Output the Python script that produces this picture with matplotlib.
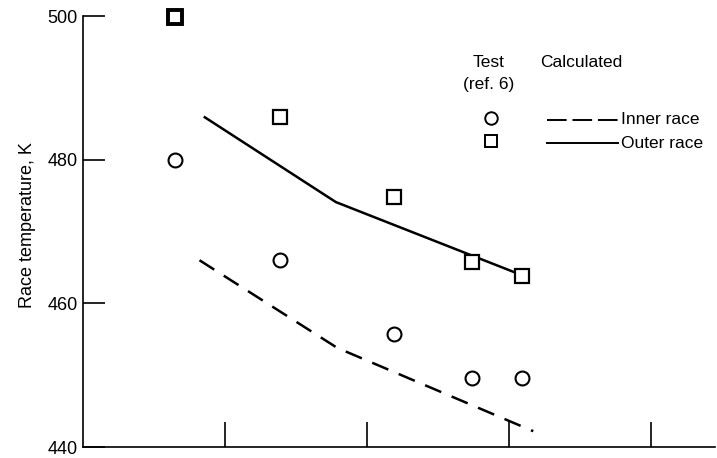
import matplotlib.pyplot as plt
from matplotlib.lines import Line2D

plt.rcParams['font.family'] = ['Liberation Sans Narrow', 'Liberation Sans', 'DejaVu Sans']

# test data (ref. 6)
test_x = [0.65, 1.39, 2.19, 2.74, 3.09]
outer_test = [499.8, 485.9, 474.8, 465.7, 463.8]
inner_test = [480.0, 466.0, 455.8, 449.6, 449.6]

# calculated curves
outer_calc_x = [0.85, 1.78, 3.08]
outer_calc = [486.0, 474.1, 464.0]
inner_calc_x = [0.82, 1.79, 3.17]
inner_calc = [466.0, 453.8, 442.2]

y_ticks = [440, 460, 480, 500]
x_ticks = [1, 2, 3, 4]

fig = plt.figure(figsize=(7.17, 4.58), dpi=100)
ax = fig.add_axes([0.1158, 0.024, 0.8815, 0.941])

ax.plot(outer_calc_x, outer_calc, color='black', lw=1.8, solid_capstyle='butt')
ax.plot(inner_calc_x, inner_calc, color='black', lw=1.8, dashes=(7, 4.5))

ax.plot(test_x[1:], outer_test[1:], 's', ms=10, mfc='white', mec='black', mew=1.6, ls='none')
ax.plot(test_x[:1], outer_test[:1], 's', ms=10, mfc='white', mec='black', mew=2.8, ls='none',
        clip_on=False)
ax.plot(test_x, inner_test, 'o', ms=10, mfc='white', mec='black', mew=1.5, ls='none')

ax.set_xlim(0, 4.45)
ax.set_ylim(440, 500)
ax.set_xticks(x_ticks)
ax.set_xticklabels([])
ax.set_yticks(y_ticks)
ax.set_yticklabels([str(v) for v in y_ticks], fontsize=13)
ax.tick_params(axis='x', direction='in', length=18, width=1.2)
ax.tick_params(axis='y', direction='in', length=16, width=1.2, pad=4)
ax.spines['top'].set_visible(False)
ax.spines['right'].set_visible(False)
ax.spines['left'].set_linewidth(1.2)
ax.spines['bottom'].set_linewidth(1.2)
ax.set_ylabel('Race temperature, K', fontsize=13)
ax.yaxis.set_label_coords(-0.074, 0.515)

# hand-made key
ax.text(0.641, 0.893, 'Test', transform=ax.transAxes, fontsize=12.5, ha='center', va='center')
ax.text(0.641, 0.842, '(ref. 6)', transform=ax.transAxes, fontsize=12.5, ha='center', va='center')
ax.text(0.788, 0.893, 'Calculated', transform=ax.transAxes, fontsize=12.5, ha='center', va='center')
ax.plot([0.646], [0.763], 'o', ms=9, mfc='white', mec='black', mew=1.4, transform=ax.transAxes)
ax.plot([0.646], [0.710], 's', ms=9, mfc='white', mec='black', mew=1.4, transform=ax.transAxes)
ax.add_line(Line2D([0.734, 0.847], [0.759, 0.759], color='black', lw=1.4, dashes=(10.1, 3),
                   transform=ax.transAxes))
ax.add_line(Line2D([0.734, 0.847], [0.705, 0.705], color='black', lw=1.4, transform=ax.transAxes))
ax.text(0.851, 0.759, 'Inner race', transform=ax.transAxes, fontsize=12.5, va='center')
ax.text(0.851, 0.705, 'Outer race', transform=ax.transAxes, fontsize=12.5, va='center')

fig.savefig('out.png', dpi=100)
